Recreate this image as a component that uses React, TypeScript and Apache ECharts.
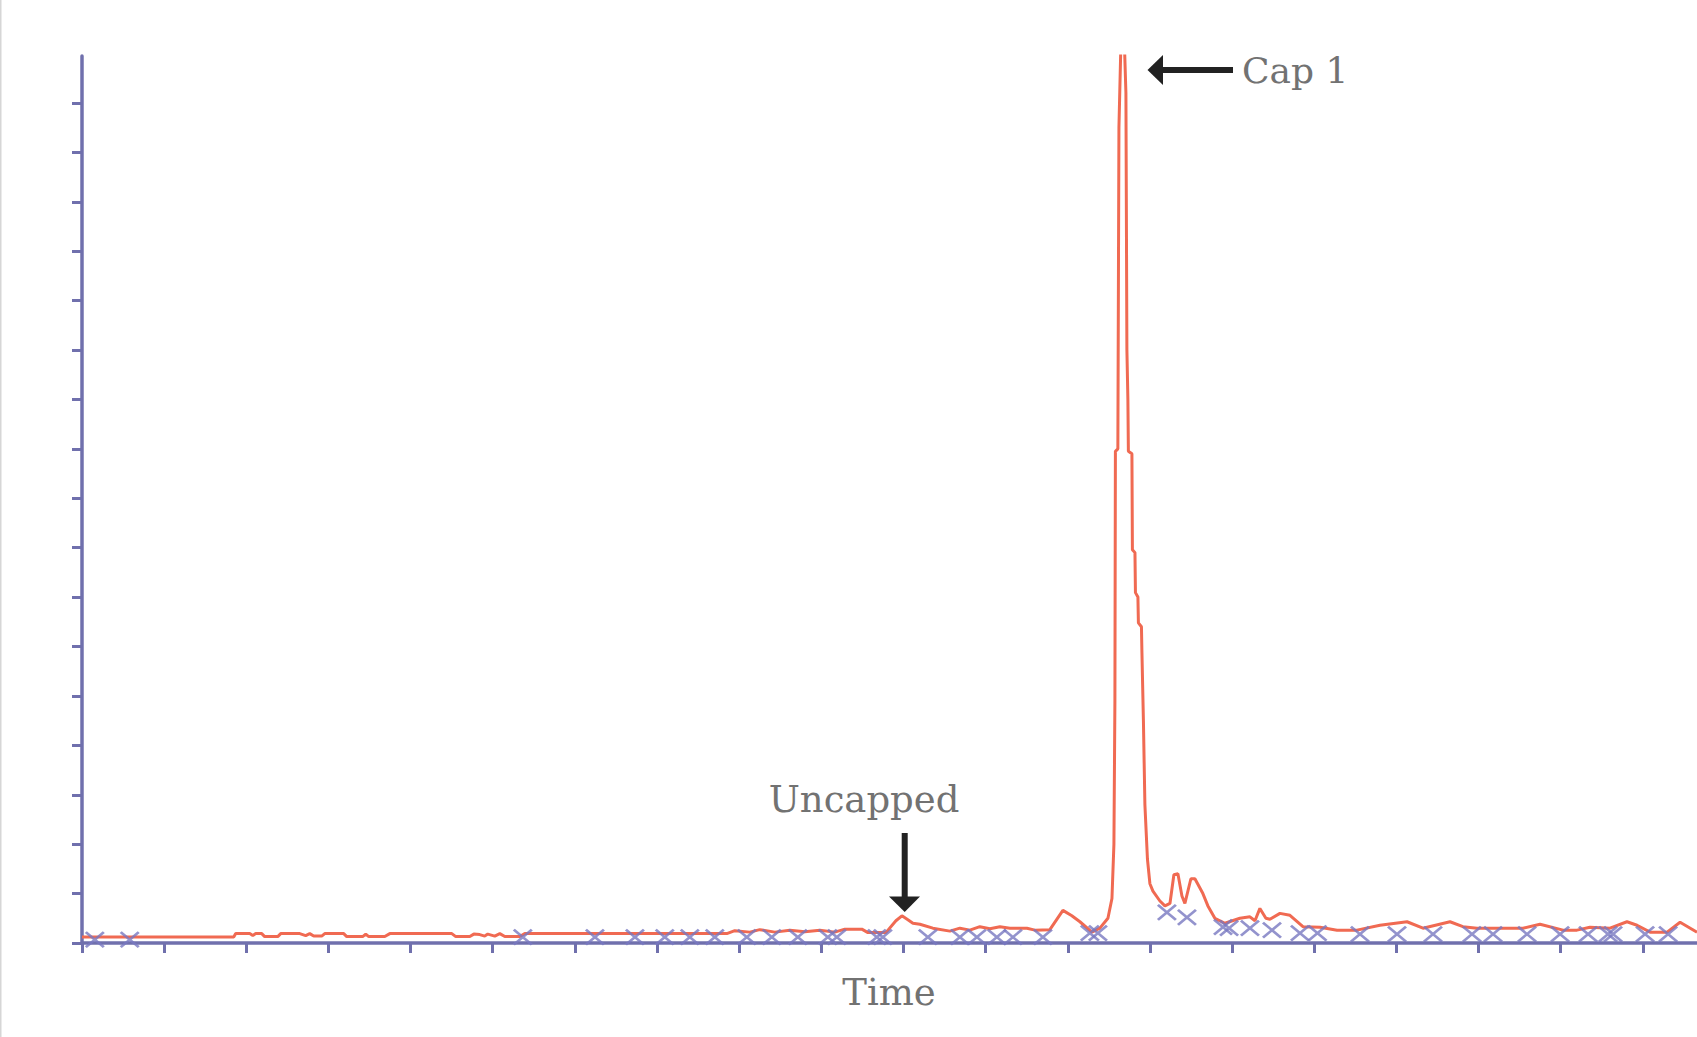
import React, { useEffect, useRef } from "react";
import * as echarts from "echarts";

// Trace (x in tick units of time, y in tick units of signal)
const traceX = [
  0, 1.847, 1.871, 2.042, 2.079, 2.115, 2.188, 2.224, 2.383, 2.419, 2.651, 2.723, 2.772, 2.821, 2.918,
  2.955, 3.186, 3.223, 3.417, 3.454, 3.491, 3.686, 3.747, 4.502, 4.55, 4.721, 4.77, 4.842, 4.903, 4.94,
  5.025, 5.086, 5.147, 5.329, 5.39, 7.85, 7.947, 8.129, 8.251, 8.434, 8.617, 8.8, 8.982, 9.165, 9.286,
  9.493, 9.567, 9.786, 9.908, 9.981, 10.054, 10.115, 10.2, 10.358, 10.565, 10.687, 10.808, 10.93, 11.052,
  11.174, 11.296, 11.503, 11.6, 11.782, 11.941, 12.05, 12.148, 12.294, 12.391, 12.489, 12.538, 12.562,
  12.574, 12.58, 12.61, 12.623, 12.647, 12.665, 12.684, 12.708, 12.72, 12.732, 12.738, 12.781, 12.787,
  12.818, 12.824, 12.854, 12.86, 12.897, 12.903, 12.921, 12.939, 12.97, 13.0, 13.037, 13.122, 13.183,
  13.244, 13.292, 13.341, 13.39, 13.426, 13.499, 13.548, 13.645, 13.706, 13.791, 13.913, 14.096, 14.218,
  14.279, 14.339, 14.412, 14.461, 14.583, 14.705, 14.863, 15.071, 15.278, 15.521, 15.801, 16.13, 16.324,
  16.653, 16.811, 16.982, 17.262, 17.542, 17.749, 18.029, 18.199, 18.357, 18.601, 18.808, 18.93, 19.089,
  19.296, 19.454, 19.66,
];
const traceY = [
  0.12, 0.12, 0.19, 0.19, 0.15, 0.19, 0.19, 0.13, 0.13, 0.19, 0.19, 0.15, 0.19, 0.14, 0.14,
  0.19, 0.19, 0.13, 0.13, 0.18, 0.13, 0.13, 0.19, 0.19, 0.13, 0.13, 0.18, 0.17, 0.14, 0.18,
  0.14, 0.19, 0.13, 0.13, 0.19, 0.19, 0.25, 0.22, 0.27, 0.22, 0.26, 0.23, 0.26, 0.22, 0.28,
  0.28, 0.21, 0.21, 0.45, 0.55, 0.47, 0.4, 0.38, 0.3, 0.24, 0.3, 0.26, 0.33, 0.29,
  0.33, 0.3, 0.3, 0.26, 0.27, 0.66, 0.55, 0.43, 0.22, 0.3, 0.5, 0.9, 2.0,
  4.9, 9.95, 10.0, 16.5, 18.2, 19.5, 18.5, 17.2, 12.0, 11.0, 9.95, 9.9, 7.96,
  7.9, 7.09, 7.0, 6.48, 6.4, 5.88, 4.5, 2.8, 1.7, 1.2, 1.05, 0.85, 0.75,
  0.8, 1.38, 1.4, 0.95, 0.8, 1.3, 1.3, 1.0, 0.75, 0.5, 0.4, 0.5, 0.53,
  0.45, 0.7, 0.5, 0.48, 0.6, 0.56, 0.33, 0.32, 0.26, 0.26, 0.36, 0.43, 0.3,
  0.43, 0.33, 0.3, 0.3, 0.3, 0.38, 0.26, 0.26, 0.32, 0.3, 0.43, 0.36, 0.22,
  0.22, 0.42, 0.22,
];

// Detected-peak markers (x)
const markX = [
  0.156, 0.581, 5.366, 6.244, 6.731, 7.094, 7.399, 7.703, 8.093, 8.397, 8.714, 9.079, 9.189, 9.676,
  9.749, 10.297, 10.687, 10.894, 11.137, 11.332, 11.697, 12.269, 12.367, 13.207, 13.451, 13.89,
  13.964, 14.218, 14.486, 14.827, 15.04, 15.557, 16.008, 16.446, 16.921, 17.177, 17.591, 17.993,
  18.334, 18.577, 18.638, 19.028, 19.308,
];
const markY = [
  0.07, 0.07, 0.12, 0.12, 0.12, 0.12, 0.12, 0.12, 0.12, 0.12, 0.12, 0.12, 0.12, 0.12,
  0.12, 0.12, 0.12, 0.12, 0.12, 0.12, 0.12, 0.2, 0.2, 0.62, 0.52, 0.32,
  0.3, 0.3, 0.26, 0.2, 0.2, 0.18, 0.18, 0.18, 0.18, 0.18, 0.18, 0.18,
  0.18, 0.18, 0.18, 0.18, 0.18,
];

const xTicks = [0, 1, 2, 3, 4, 5, 6, 7, 8, 9, 10, 11, 12, 13, 14, 15, 16, 17, 18, 19];
const yTicks = [0, 1, 2, 3, 4, 5, 6, 7, 8, 9, 10, 11, 12, 13, 14, 15, 16, 17];

const xName = "Time";
const capLabel = "Cap 1";
const uncappedLabel = "Uncapped";

const AXIS = "#7070ad";
const LINE = "#f06a52";
const MARK = "#7878c0";
const TEXT = "#727272";
const FONT = "DejaVu Serif";

export default function App() {
  const ref = useRef<HTMLDivElement>(null);
  useEffect(() => {
    if (!ref.current) return;
    const chart = echarts.init(ref.current, null, { renderer: "svg" });
    const traceData = traceX.map((x, i) => [x, traceY[i]]);
    const markData = markX.map((x, i) => [x, markY[i]]);
    const axisCommon = {
      type: "value" as const,
      axisLine: { show: true, onZero: false, lineStyle: { color: AXIS, width: 3.5 } },
      axisLabel: { show: false },
      splitLine: { show: false },
    };
    chart.setOption({
      animation: false,
      backgroundColor: "#ffffff",
      grid: { left: 82, top: 56, right: 0, bottom: 94, containLabel: false },
      xAxis: {
        ...axisCommon,
        min: 0,
        max: 19.66,
        interval: 1,
        axisTick: { show: true, length: 10, lineStyle: { color: AXIS, width: 3 }, customValues: xTicks },
      },
      yAxis: {
        ...axisCommon,
        min: 0,
        max: 17.95,
        interval: 1,
        axisTick: { show: true, length: 10, lineStyle: { color: AXIS, width: 3 }, customValues: yTicks },
      },
      series: [
        {
          type: "line",
          data: traceData,
          showSymbol: false,
          symbol: "none",
          clip: true,
          lineStyle: { color: LINE, width: 3 },
          z: 3,
        },
        {
          type: "scatter",
          data: markData,
          symbol: "path://M0,0L17,15M17,0L0,15",
          symbolSize: [18, 15],
          itemStyle: { color: "none", borderColor: MARK, borderWidth: 2.6, opacity: 0.8 },
          z: 4,
        },
      ],
      graphic: [
        { type: "line", shape: { x1: 0.75, y1: 0, x2: 0.75, y2: 1037 }, style: { stroke: "#d6d6d6", lineWidth: 1.5 } },
        {
          type: "text",
          x: 889,
          y: 992,
          style: { text: xName, font: `37px '${FONT}'`, fill: TEXT, align: "center", verticalAlign: "middle" },
        },
        {
          type: "text",
          x: 1242,
          y: 70,
          style: { text: capLabel, font: `36px '${FONT}'`, fill: TEXT, align: "left", verticalAlign: "middle" },
        },
        {
          type: "text",
          x: 864,
          y: 799,
          style: { text: uncappedLabel, font: `37px '${FONT}'`, fill: TEXT, align: "center", verticalAlign: "middle" },
        },
        { type: "rect", shape: { x: 1160, y: 67, width: 73, height: 6 }, style: { fill: "#222" } },
        { type: "polygon", shape: { points: [[1147.5, 70], [1163, 55], [1163, 85]] }, style: { fill: "#222" } },
        { type: "rect", shape: { x: 901.7, y: 833, width: 6, height: 66 }, style: { fill: "#222" } },
        { type: "polygon", shape: { points: [[889, 896.5], [920, 896.5], [904.7, 912]] }, style: { fill: "#222" } },
      ],
    });
    return () => chart.dispose();
  }, []);
  return (
    <div
      ref={ref}
      style={{ position: "fixed", left: 0, top: 0, width: 1697, height: 1037, background: "#fff" }}
    />
  );
}
